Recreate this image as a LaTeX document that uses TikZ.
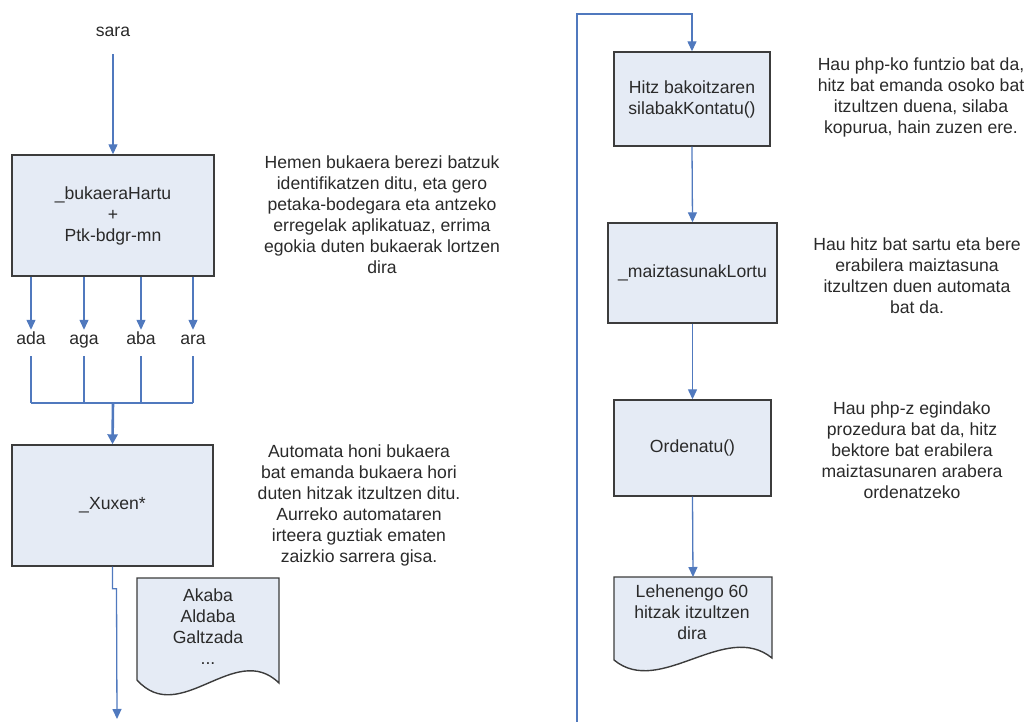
\documentclass[tikz,border=0pt]{standalone}
\usepackage{fontspec}
\setmainfont{Liberation Sans}
\usetikzlibrary{arrows.meta,calc}

\definecolor{boxfill}{HTML}{E5EBF5}
\definecolor{boxline}{HTML}{3C3C3C}
\definecolor{flowblue}{HTML}{5079BE}
\definecolor{inktext}{HTML}{2A2A2A}

\newcommand{\txt}{\fontsize{17.6}{21}\selectfont}

\tikzset{
  proc/.style={draw=boxline, fill=boxfill, line width=1.4pt, align=center,
    inner sep=0pt, font=\txt, text=inktext},
  docshape/.style={draw=boxline, fill=boxfill, line width=1.4pt},
  doctext/.style={align=center, inner sep=0pt, font=\txt, text=inktext},
  note/.style={align=center, inner sep=0pt, font=\txt, text=inktext},
  lbl/.style={inner sep=1pt, font=\txt, text=inktext, text height=13pt,
    text depth=4pt, anchor=base},
  flow/.style={draw=flowblue, line width=1.3pt, -{Triangle[width=9pt,length=10pt]}},
  bigflow/.style={draw=flowblue, line width=2.6pt, -{Triangle[width=10pt,length=10pt]}},
  link/.style={draw=flowblue, line width=1.3pt},
}

\begin{document}
\begin{tikzpicture}[x=1pt,y=-1pt]
\useasboundingbox (0,0) rectangle (1026,722);

% ---------- left column ----------
\node[lbl] (sara) at (113,37) {sara};
\node[proc, minimum width=202pt, minimum height=121pt] (b1) at (113,215.5)
  {\_bukaeraHartu\\+\\Ptk-bdgr-mn};

\draw[flow] ([yshift=-12pt]sara.south) -- (b1.north);

\node[lbl] (e1) at (31,344) {ada};
\node[lbl] (e2) at (84,344) {aga};
\node[lbl] (e3) at (141,344) {aba};
\node[lbl] (e4) at (193,344) {ara};

\foreach \e in {e1,e2,e3,e4}
  \draw[flow] (b1.south -| \e) -- (\e.north);

\coordinate (merge) at (113,403);
\foreach \e in {e1,e2,e3,e4}
  \draw[link] ([yshift=-7pt]\e.south) -- (\e.south |- merge);
\draw[link] (e1 |- merge) -- (e4 |- merge);

\node[proc, minimum width=201pt, minimum height=121pt] (b2) at (112.5,505.5)
  {\_Xuxen*};
\draw[bigflow] (merge) -- (b2.north);

\coordinate (lend) at (117,719);
\draw[flow] (b2.south) -- ++(0,22) -- ++(4,0) -- (lend);

% output list of the left column
\coordinate (d1a) at (137,578);
\coordinate (d1b) at (279,578);
\draw[docshape] (d1a) -- (d1b) -- (279,683)
  .. controls (235,640) and (180,728) .. (137,680) -- cycle;
\node[doctext] (d1) at (208,626.5) {Akaba\\Aldaba\\Galtzada\\...};

% ---------- left notes ----------
\node[note] (n1) at (382,214.5) {Hemen bukaera berezi batzuk\\identifikatzen ditu, eta gero\\petaka-bodegara eta antzeko\\erregelak aplikatuaz, errima\\egokia duten bukaerak lortzen\\dira};
\node[note] (n2) at (359,505.5) {Automata honi bukaera\\bat emanda bukaera hori\\duten hitzak itzultzen ditu.\\Aurreko automataren\\irteera guztiak ematen\\zaizkio sarrera gisa.};

% ---------- right column ----------
\node[proc, minimum width=156pt, minimum height=94pt] (b3) at (692,99)
  {Hitz bakoitzaren\\silabakKontatu()};
\node[proc, minimum width=169pt, minimum height=100pt] (b4) at (692.5,273)
  {\_maiztasunakLortu};
\node[proc, minimum width=157pt, minimum height=96pt] (b5) at (692.5,448)
  {Ordenatu()};

\coordinate (rbot) at (577,722);
\coordinate (rtop) at (577,14);
\draw[flow] (rbot) -- (rtop) -| (b3.north);
\draw[flow] (b3.south) -- (b4.north);
\draw[flow] (b4.south) -- (b5.north);

\coordinate (d2a) at (614,577);
\coordinate (d2b) at (772,577);
\draw[docshape] (d2a) -- (d2b) -- (772,658)
  .. controls (725,620) and (660,698) .. (614,660) -- cycle;
\node[doctext] (d2) at (692,612.5) {Lehenengo 60\\hitzak itzultzen\\dira};
\draw[flow] (b5.south) -- ($(d2a)!0.5!(d2b)$);

% ---------- right notes ----------
\node[note] (n3) at (921,97.5) {Hau php-ko funtzio bat da,\\hitz bat emanda osoko bat\\itzultzen duena, silaba\\kopurua, hain zuzen ere.};
\node[note] (n4) at (917,276) {Hau hitz bat sartu eta bere\\erabilera maiztasuna\\itzultzen duen automata\\bat da.};
\node[note] (n5) at (912,450) {Hau php-z egindako\\prozedura bat da, hitz\\bektore bat erabilera\\maiztasunaren arabera\\ordenatzeko};
\end{tikzpicture}
\end{document}
